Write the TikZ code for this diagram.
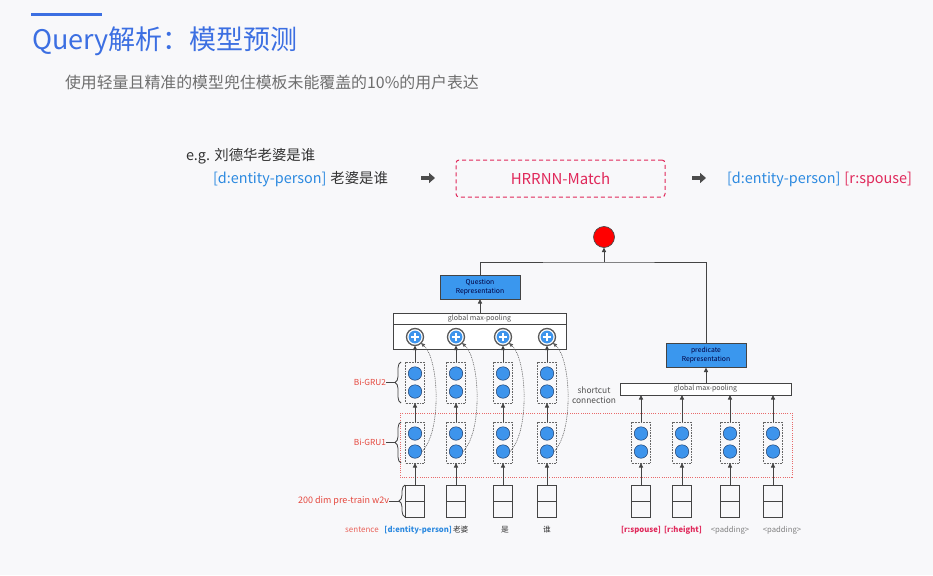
\documentclass[tikz,border=0pt]{standalone}
\usepackage{fontspec}
\setmainfont{Noto Sans CJK SC}
\usetikzlibrary{arrows.meta,decorations.pathreplacing}

\definecolor{bgc}{HTML}{F8F8FA}
\definecolor{titleblue}{HTML}{3C6FE2}
\definecolor{subgray}{HTML}{6E6E6E}
\definecolor{darktxt}{HTML}{333333}
\definecolor{entblue}{HTML}{2D8AE0}
\definecolor{relred}{HTML}{E0285A}
\definecolor{lblred}{HTML}{E5483E}
\definecolor{cellblue}{HTML}{3D94EC}
\definecolor{cellrim}{HTML}{1F3F6E}
\definecolor{repblue}{HTML}{3A97EE}
\definecolor{wire}{HTML}{444444}
\definecolor{dotred}{HTML}{E86A6A}

\begin{document}
\begin{tikzpicture}[x=1pt,y=-1pt,
  every node/.style={inner sep=0pt, outer sep=0pt},
  fs/.style={font=\fontsize{#1}{#1}\selectfont},
  flow/.style={draw=wire, line width=0.9pt, -{Triangle[length=4.5pt,width=4pt]}},
  wireline/.style={draw=wire, line width=0.9pt},
  cellbox/.style={draw=gray!80!black, dash pattern=on 0.8pt off 0.8pt, line width=0.6pt,
                  minimum width=19pt, minimum height=41pt},
  cell/.style={circle, fill=cellblue, draw=cellrim, line width=0.5pt, minimum size=13.5pt},
  embed/.style={draw=wire, line width=0.9pt, minimum width=19pt, minimum height=32pt},
  pool/.style={draw=wire, line width=0.9pt, fill=white, fs=7, text=gray!60!black},
  rep/.style={draw=wire, line width=0.9pt, fill=repblue, minimum width=80pt, minimum height=24pt,
              align=center, font=\fontsize{6.8}{9}\selectfont, text=black!75!blue},
  plus/.style={circle, draw=gray!70!black, line width=1.3pt, fill=white, minimum size=17pt},
  lbl/.style={fs=8.3, text=lblred},
  word/.style={fs=7.7, anchor=base},
  brc/.style={draw=wire, line width=0.8pt, decorate, decoration={brace, amplitude=6pt}},
  shortcut/.style={draw=gray!70!black, line width=0.6pt, dash pattern=on 0.9pt off 0.9pt,
                   -{Triangle[length=4pt,width=3.5pt]}},
  bigarrow/.style={draw=black!70, line width=3.2pt, -{Triangle[length=6pt,width=10pt]}}
]
\fill[bgc] (0,0) rectangle (933,575);
\useasboundingbox (0,0) rectangle (933,575);

% heading
\fill[titleblue] (31,12.7) rectangle (102,16);
\node[anchor=base west, fs=27, text=titleblue] (title) at (32,50) {Query解析：模型预测};
\node[anchor=base west, fs=15.9, text=subgray] (sub) at (65,89)
  {使用轻量且精准的模型兜住模板未能覆盖的10\%的用户表达};

% example query line
\node[anchor=base west, fs=14.4, text=darktxt] (eg) at (186,160) {e.g. 刘德华老婆是谁};
\node[anchor=base west, fs=14.4, text=entblue] (qent) at (213,183) {[d:entity-person]};
\node[anchor=base west, fs=14.4, text=darktxt] (qrest) at ([xshift=4pt]qent.base east) {老婆是谁};
\node[draw=relred, line width=1pt, dash pattern=on 4pt off 3pt, rounded corners=3pt,
      minimum width=209pt, minimum height=37pt, fs=15, text=relred] (hr) at (560.5,178.5) {HRRNN-Match};
\node[anchor=base west, fs=14.4, text=entblue] (oent) at (727,183) {[d:entity-person]};
\node[anchor=base west, fs=14.4, text=relred] (orel) at ([xshift=4pt]oent.base east) {[r:spouse]};
\coordinate (a1s) at (421,178);
\coordinate (a1e) at (435,178);
\coordinate (a2s) at (692,178);
\coordinate (a2e) at (706,178);
\draw[bigarrow] (a1s) -- (a1e);
\draw[bigarrow] (a2s) -- (a2e);

% Bi-GRU1 region
\draw[dotred, line width=0.8pt, dash pattern=on 1pt off 1.2pt] (400,413) rectangle (792,477);

% question side
\node[draw=wire, line width=0.9pt, fill=white, minimum width=173pt, minimum height=36pt] (BIG) at (479.5,331) {};
\node[pool, minimum width=173pt, minimum height=11pt, anchor=north] (GML) at (BIG.north) {global max-pooling};
\node[rep] (QR) at (480,287) {Question\\Representation};
\draw[flow] (BIG.north -| QR) -- (QR.south);

\foreach \i/\x in {1/415,2/456,3/503,4/547} {
  \node[embed] (L\i) at (\x,501) {};
  \draw[wireline] (L\i.west) -- (L\i.east);
  \node[cellbox] (G1\i) at (\x,442.5) {};
  \node[cell] (G1a\i) at (\x,433.5) {};
  \node[cell] (G1b\i) at (\x,451.5) {};
  \node[cellbox] (G2\i) at (\x,382.5) {};
  \node[cell] (G2a\i) at (\x,373.5) {};
  \node[cell] (G2b\i) at (\x,391.5) {};
  \node[plus] (P\i) at (\x,337) {};
  \fill[cellblue] (P\i.center) circle (6.4pt);
  \draw[white, line width=2.2pt] ([xshift=-4.4pt]P\i.center) -- ([xshift=4.4pt]P\i.center);
  \draw[white, line width=2.2pt] ([yshift=-4.4pt]P\i.center) -- ([yshift=4.4pt]P\i.center);
  \draw[flow] (L\i) -- (G1\i);
  \draw[flow] (G1\i) -- (G2\i);
  \draw[flow] (G2\i) -- (P\i);
  \draw[shortcut] ([xshift=7pt]G1b\i.center) .. controls +(20,-20) and +(18,16) .. (P\i.south east);
}

% predicate side
\node[pool, minimum width=171pt, minimum height=12pt] (GMR) at (705.5,389) {global max-pooling};
\node[rep] (PR) at (706,355.5) {predicate\\Representation};
\draw[flow] (GMR.north -| PR) -- (PR.south);

\foreach \i/\x in {1/641,2/682,3/730,4/773} {
  \node[embed] (R\i) at (\x,501) {};
  \draw[wireline] (R\i.west) -- (R\i.east);
  \node[cellbox] (H\i) at (\x,442.5) {};
  \node[cell] (Ha\i) at (\x,433.5) {};
  \node[cell] (Hb\i) at (\x,451.5) {};
  \draw[flow] (R\i) -- (H\i);
  \draw[flow] (H\i) -- (H\i |- GMR.south);
}

% matching output
\node[circle, fill=red, draw=black!70, line width=0.7pt, minimum size=21pt] (OUT) at (604,237) {};
\coordinate (J) at (604,262);
\draw[wireline] (QR.north) |- (J) -| (PR.north);
\draw[flow] (J) -- (OUT.south);

% layer annotations
\node[lbl, anchor=east] (bg2) at (386,382.5) {Bi-GRU2};
\coordinate (bg2tip) at (395,382.5);
\draw[brc] (401,403) -- (401,362);
\draw[wireline, line width=0.8pt] (bg2.east) -- (bg2tip);
\node[lbl, anchor=east] (bg1) at (386,442.5) {Bi-GRU1};
\coordinate (bg1tip) at (395,442.5);
\draw[brc] (401,463) -- (401,422);
\draw[wireline, line width=0.8pt] (bg1.east) -- (bg1tip);
\node[lbl, anchor=east, fs=9] (w2v) at (389,501) {200 dim pre-train w2v};
\coordinate (w2vtip) at (399,501);
\draw[brc] (405,517) -- (405,485);
\draw[wireline, line width=0.8pt] (w2v.east) -- (w2vtip);
\node[font=\fontsize{8.4}{10}\selectfont, text=darktxt!85, align=center] (SC) at (594,395) {shortcut\\connection};

% input tokens
\node[word, text=lblred!85, fs=8] (wsent) at (362,532.5) {sentence};
\node[word, anchor=base east, text=entblue, font=\fontsize{7.7}{7.7}\selectfont\bfseries] (w1) at (452,532.5) {[d:entity-person]};
\node[word, anchor=base west, text=darktxt] (w2) at (453,532.5) {老婆};
\node[word, text=darktxt] (w3) at (505,532.5) {是};
\node[word, text=darktxt] (w4) at (547,532.5) {谁};
\node[word, text=relred, font=\fontsize{7.7}{7.7}\selectfont\bfseries] (r1) at (641,532.5) {[r:spouse]};
\node[word, text=relred, font=\fontsize{7.7}{7.7}\selectfont\bfseries] (r2) at (683,532.5) {[r:height]};
\node[word, text=gray] (r3) at (730,532.5) {<padding>};
\node[word, text=gray] (r4) at (782,532.5) {<padding>};
\end{tikzpicture}
\end{document}
